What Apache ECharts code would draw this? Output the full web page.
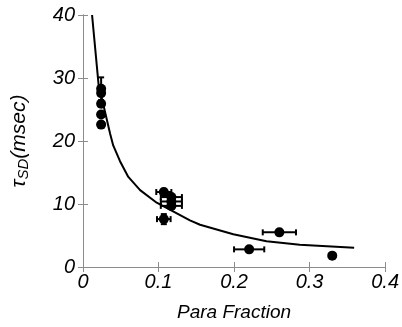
<!DOCTYPE html>
<html>
<head>
<meta charset="utf-8">
<script src="https://cdn.jsdelivr.net/npm/echarts@6/dist/echarts.min.js"></script>
<style>
  html, body { margin: 0; padding: 0; background: #fff; }
  #chart { width: 402px; height: 327px; }
</style>
</head>
<body>
<div id="chart"></div>
<script>
// measured points: x = para fraction, y = tau_SD (msec), with error half-widths
const ptX    = [0.024, 0.024, 0.024, 0.024, 0.024, 0.107, 0.117, 0.117, 0.117, 0.107, 0.220, 0.260, 0.330];
const ptY    = [28.3,  27.6,  25.9,  24.2,  22.6,  11.9,  11.1,  10.4,  9.7,   7.6,   2.8,   5.5,   1.8];
const ptXErr = [0,     0,     0,     0,     0,     0.010, 0.014, 0.014, 0.014, 0.009, 0.020, 0.022, 0];
const ptYErr = [1.8,   0,     0,     0,     0,     0.5,   0,     0,     0,     0.8,   0,     0,     0];

// fitted curve
const fitX = [0.012, 0.0206, 0.036, 0.040, 0.049, 0.060, 0.0756, 0.0976, 0.1416, 0.155, 0.199, 0.243, 0.287, 0.359];
const fitY = [40.0,  29.0,   21.1,  19.3,  16.8,  14.3,  12.2,   10.2,   7.4,    6.7,   5.2,   4.1,   3.55,  3.04];

const xTicks = [0, 0.1, 0.2, 0.3, 0.4];
const yTicks = [0, 10, 20, 30, 40];

const FONT = "'Liberation Sans', Arial, sans-serif";
const AXIS_COLOR = "#8c8c8c";

const points = ptX.map((x, i) => [x, ptY[i]]);
const errData = ptX.map((x, i) => [x, ptY[i], ptXErr[i], ptYErr[i]]);
const fit = fitX.map((x, i) => [x, fitY[i]]);

function errorBars(params, api) {
  const x = api.value(0), y = api.value(1), dx = api.value(2), dy = api.value(3);
  const cap = 3;
  const kids = [];
  const st = { stroke: "#000", lineWidth: 2 };
  if (dx > 0) {
    const a = api.coord([x - dx, y]), b = api.coord([x + dx, y]);
    kids.push({ type: "line", shape: { x1: a[0], y1: a[1], x2: b[0], y2: b[1] }, style: st });
    kids.push({ type: "line", shape: { x1: a[0], y1: a[1] - cap, x2: a[0], y2: a[1] + cap }, style: st });
    kids.push({ type: "line", shape: { x1: b[0], y1: b[1] - cap, x2: b[0], y2: b[1] + cap }, style: st });
  }
  if (dy > 0) {
    const a = api.coord([x, y - dy]), b = api.coord([x, y + dy]);
    kids.push({ type: "line", shape: { x1: a[0], y1: a[1], x2: b[0], y2: b[1] }, style: st });
    kids.push({ type: "line", shape: { x1: a[0] - cap, y1: a[1], x2: a[0] + cap, y2: a[1] }, style: st });
    kids.push({ type: "line", shape: { x1: b[0] - cap, y1: b[1], x2: b[0] + cap, y2: b[1] }, style: st });
  }
  return { type: "group", children: kids };
}

const axisBase = {
  type: "value",
  axisLine: { show: true, lineStyle: { color: AXIS_COLOR, width: 1 } },
  axisTick: { show: true, inside: true, length: 5, lineStyle: { color: AXIS_COLOR } },
  splitLine: { show: false },
};

const chart = echarts.init(document.getElementById("chart"), null, { renderer: "canvas" });
chart.setOption({
  animation: false,
  backgroundColor: "#fff",
  grid: { left: 83, right: 16, top: 15, bottom: 50 },
  xAxis: [
    { ...axisBase, min: 0, max: 0.4, interval: 0.1, position: "bottom",
      name: "Para Fraction", nameLocation: "middle", nameGap: 36,
      nameTextStyle: { fontFamily: FONT, fontStyle: "italic", fontSize: 19, color: "#000" },
      axisLabel: { fontFamily: FONT, fontStyle: "italic", fontSize: 20, color: "#000", margin: 5,
        formatter: v => xTicks.includes(+v.toFixed(1)) ? String(+v.toFixed(1)) : "" } },
    { ...axisBase, min: 0, max: 0.4, interval: 0.1, position: "top", axisLabel: { show: false } },
  ],
  yAxis: [
    { ...axisBase, min: 0, max: 40, interval: 10, position: "left",
      name: "{t|τ}{s|SD}{n|(msec)}", nameLocation: "middle", nameGap: 52, nameRotate: 90,
      nameTextStyle: { rich: {
        t: { fontFamily: FONT, fontStyle: "italic", fontSize: 21, color: "#000" },
        s: { fontFamily: FONT, fontStyle: "italic", fontSize: 15, color: "#000", padding: [8, 0, 0, 0] },
        n: { fontFamily: FONT, fontStyle: "italic", fontSize: 21, color: "#000" } } },
      axisLabel: { fontFamily: FONT, fontStyle: "italic", fontSize: 20, color: "#000", margin: 8,
        formatter: v => yTicks.includes(v) ? String(v) : "" } },
    { ...axisBase, min: 0, max: 40, interval: 10, position: "right", axisLabel: { show: false } },
  ],
  series: [
    { type: "line", data: fit, smooth: false, showSymbol: false, clip: true,
      lineStyle: { color: "#000", width: 2, join: "round" }, z: 2 },
    { type: "custom", renderItem: errorBars, data: errData, z: 3 },
    { type: "scatter", data: points, symbol: "circle", symbolSize: 10,
      itemStyle: { color: "#000", opacity: 1 }, z: 4 },
  ],
});
</script>
</body>
</html>
